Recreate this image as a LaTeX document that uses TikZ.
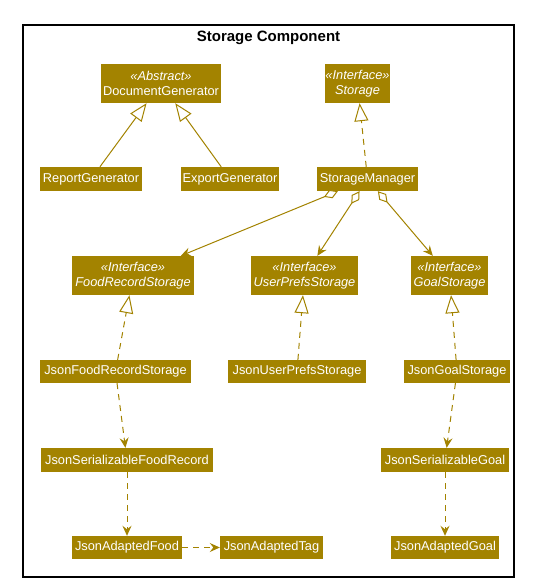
\documentclass[tikz,border=0pt]{standalone}
\usepackage{fontspec}
\setmainfont{Liberation Sans}
\usetikzlibrary{arrows.meta}
\definecolor{stor}{HTML}{A38300}
\tikzset{
  cls/.style={fill=stor, text=white, inner sep=0pt, align=center,
    font=\fontsize{12.8}{14.5}\selectfont},
  conn/.style={draw=stor, line width=1pt},
  dashy/.style={dash pattern=on 6pt off 5pt},
  ext/.style={conn, -{Triangle[open, length=18pt, width=14pt, fill=white]}},
  impl/.style={ext, dashy},
  dep/.style={conn, dashy, -{Stealth[length=10pt, width=9pt, inset=3.5pt]}},
  agg/.style={conn, {Diamond[open, length=15pt, width=9pt, fill=white]}-{Stealth[length=10pt, width=9pt, inset=3.5pt]}},
}
\begin{document}
\begin{tikzpicture}[x=1pt, y=-1pt]
\useasboundingbox (0,0) rectangle (537,588);
\fill[white] (0,0) rectangle (537,588);
\draw[line width=1.6pt] (23,25) rectangle (514,577);
\node[font=\bfseries\fontsize{15}{17}\selectfont] (title) at (268.5,37.5) {Storage Component};

\node[cls, minimum width=120pt, minimum height=39pt] (docgen) at (161,83.5) {\textit{«Abstract»}\\DocumentGenerator};
\node[cls, minimum width=65pt, minimum height=39pt] (storage) at (357.5,83.5) {\textit{«Interface»}\\\textit{Storage}};
\node[cls, minimum width=102pt, minimum height=24pt] (report) at (91,179) {ReportGenerator};
\node[cls, minimum width=98pt, minimum height=24pt] (export) at (230,179) {ExportGenerator};
\node[cls, minimum width=101pt, minimum height=24pt] (manager) at (367.5,179) {StorageManager};
\node[cls, minimum width=122pt, minimum height=39pt] (food) at (133,275.5) {\textit{«Interface»}\\\textit{FoodRecordStorage}};
\node[cls, minimum width=107pt, minimum height=39pt] (userprefs) at (304.5,275.5) {\textit{«Interface»}\\\textit{UserPrefsStorage}};
\node[cls, minimum width=77pt, minimum height=39pt] (goal) at (449.5,275.5) {\textit{«Interface»}\\\textit{GoalStorage}};
\node[cls, minimum width=151pt, minimum height=23pt] (jfood) at (115.5,371.5) {JsonFoodRecordStorage};
\node[cls, minimum width=138pt, minimum height=23pt] (juser) at (297,371.5) {JsonUserPrefsStorage};
\node[cls, minimum width=106pt, minimum height=23pt] (jgoal) at (457,371.5) {JsonGoalStorage};
\node[cls, minimum width=172pt, minimum height=24pt] (jsfood) at (127,460) {JsonSerializableFoodRecord};
\node[cls, minimum width=128pt, minimum height=24pt] (jsgoal) at (445,460) {JsonSerializableGoal};
\node[cls, minimum width=110pt, minimum height=23pt] (jafood) at (127,547.5) {JsonAdaptedFood};
\node[cls, minimum width=103pt, minimum height=23pt] (jatag) at (271.5,547.5) {JsonAdaptedTag};
\node[cls, minimum width=108pt, minimum height=23pt] (jagoal) at (445,547.5) {JsonAdaptedGoal};

\draw[ext] (report) -- (docgen);
\draw[ext] (export) -- (docgen);
\draw[impl] (manager) -- (storage);
\draw[agg] (manager) -- (food);
\draw[agg] (manager) -- (userprefs);
\draw[agg] (manager) -- (goal);
\draw[impl] (jfood) -- (food);
\draw[impl] (juser) -- (userprefs);
\draw[impl] (jgoal) -- (goal);
\draw[dep] (jfood) -- (jsfood);
\draw[dep] (jgoal) -- (jsgoal);
\draw[dep] (jsfood) -- (jafood);
\draw[dep] (jsgoal) -- (jagoal);
\draw[dep] (jafood) -- (jatag);
\end{tikzpicture}
\end{document}
